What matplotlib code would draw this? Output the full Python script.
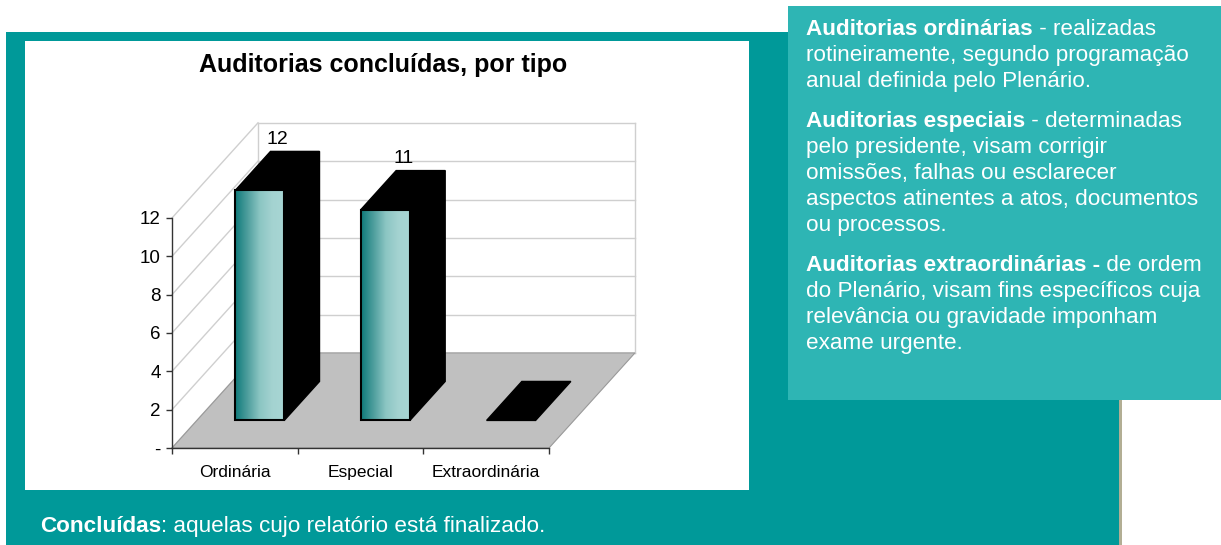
import numpy as np
import matplotlib.pyplot as plt
from matplotlib.patches import Rectangle, Polygon
from matplotlib.colors import LinearSegmentedColormap

# data
categories = ["Ordinária", "Especial", "Extraordinária"]
values = [12, 11, 0]
y_ticks = [0, 2, 4, 6, 8, 10, 12]
y_tick_labels = ["-", "2", "4", "6", "8", "10", "12"]

title = "Auditorias concluídas, por tipo"
note_bold = "Concluídas"
note_rest = ": aquelas cujo relatório está finalizado."

# (bold start, rest of first line, following lines)
paragraphs = [
    ("Auditorias ordinárias", " - realizadas",
     ["rotineiramente, segundo programação", "anual definida pelo Plenário."]),
    ("Auditorias especiais", " - determinadas",
     ["pelo presidente, visam corrigir", "omissões, falhas ou esclarecer",
      "aspectos atinentes a atos, documentos", "ou processos."]),
    ("Auditorias extraordinárias -", " de ordem",
     ["do Plenário, visam fins específicos cuja",
      "relevância ou gravidade imponham", "exame urgente."]),
]

TEAL = "#009999"
TEAL_LIGHT = "#2EB5B4"
W, H = 1221, 545
plt.rcParams["font.family"] = ["Liberation Sans", "DejaVu Sans"]

fig = plt.figure(figsize=(W / 100, H / 100), dpi=100)


def fx(x):
    return x / W


def fy(y):
    return 1 - y / H


def px_rect(x0, y0, x1, y1, color, z=0):
    fig.add_artist(Rectangle((fx(x0), fy(y1)), (x1 - x0) / W, (y1 - y0) / H,
                             transform=fig.transFigure, facecolor=color,
                             edgecolor="none", zorder=z))


# page background
px_rect(6, 32, 1119, 545, TEAL)
px_rect(1119, 400, 1122, 545, "#B2AE94")
px_rect(25, 41, 749, 490, "white")
px_rect(788, 6, 1221, 400, TEAL_LIGHT)

# chart axes with oblique depth
ax_box = (140, 110, 680, 490)
ax = fig.add_axes([fx(ax_box[0]), fy(ax_box[3]),
                   (ax_box[2] - ax_box[0]) / W, (ax_box[3] - ax_box[1]) / H])
ax.set_facecolor("none")
xs = 125.67  # px per category
ys = 19.17   # px per unit
xlim = ((ax_box[0] - 172) / xs, (ax_box[2] - 172) / xs)
ylim = (-(ax_box[3] - 448) / ys, (448 - ax_box[1]) / ys)

DX, DY = 0.684, 4.96
ymax = 12
n = len(categories)


def P(x, y, d):
    return (x + d * DX, y + d * DY)


# floor
ax.add_patch(Polygon([P(0, 0, 0), P(n, 0, 0), P(n, 0, 1), P(0, 0, 1)],
                     facecolor="#C0C0C0", edgecolor="#999999", lw=0.8, zorder=1))
# walls
for v in y_ticks:
    ax.plot([P(0, v, 1)[0], P(n, v, 1)[0]], [P(0, v, 1)[1]] * 2,
            color="#CFCFCF", lw=1, zorder=0.5)
    ax.plot([0, DX], [v, v + DY], color="#CFCFCF", lw=1, zorder=0.5)
ax.plot([DX, DX], [DY, ymax + DY], color="#CFCFCF", lw=1, zorder=0.5)
ax.plot([n + DX, n + DX], [DY, ymax + DY], color="#CFCFCF", lw=1, zorder=0.5)

# bars
cmap = LinearSegmentedColormap.from_list(
    "bar", ["#0E7A7A", "#4E9E9D", "#8CC6C3", "#A4D3D1", "#A8D6D4"])
grad = np.linspace(0, 1, 256).reshape(1, -1)
bw, d0, d1 = 0.39, 0.29, 0.70
for i, v in enumerate(values):
    x0 = i + 0.5 - bw / 2
    x1 = i + 0.5 + bw / 2
    ax.add_patch(Polygon([P(x0, v, d0), P(x1, v, d0), P(x1, v, d1), P(x0, v, d1)],
                         facecolor="black", edgecolor="black", lw=1, zorder=3))
    if v > 0:
        ax.add_patch(Polygon([P(x1, 0, d0), P(x1, v, d0), P(x1, v, d1), P(x1, 0, d1)],
                             facecolor="black", edgecolor="black", lw=1, zorder=3))
        fx0, fy0 = P(x0, 0, d0)
        fx1, fy1 = P(x1, v, d0)
        ax.imshow(grad, cmap=cmap, aspect="auto", extent=(fx0, fx1, fy0, fy1),
                  zorder=4, interpolation="bilinear")
        ax.add_patch(Rectangle((fx0, fy0), fx1 - fx0, fy1 - fy0, facecolor="none",
                               edgecolor="black", lw=1.5, zorder=5))
        lx, ly = P(i + 0.5, v, 0.5)
        ax.text(lx, ly + 1.6, str(v), ha="center", va="center",
                fontsize=14, zorder=6)

ax.set_xlim(*xlim)
ax.set_ylim(*ylim)

# axes
for s in ["top", "right"]:
    ax.spines[s].set_visible(False)
ax.spines["left"].set_position(("data", 0))
ax.spines["bottom"].set_position(("data", 0))
ax.spines["left"].set_bounds(0, ymax)
ax.spines["bottom"].set_bounds(0, n)
for s in ["left", "bottom"]:
    ax.spines[s].set_color("#333333")
    ax.spines[s].set_linewidth(1)
    ax.spines[s].set_zorder(2)
ax.set_yticks(y_ticks)
ax.set_yticklabels(y_tick_labels, fontsize=13.5)
ax.set_xticks(range(n + 1))
ax.set_xticklabels([])
ax.set_xticks([i + 0.5 for i in range(n)], minor=True)
ax.set_xticklabels(categories, minor=True, fontsize=12.5)
for lbl in ax.get_xticklabels(minor=True):
    lbl.set_verticalalignment("baseline")
ax.tick_params(axis="both", which="major", length=4, width=1, color="#333333", pad=4)
ax.tick_params(axis="x", which="minor", length=0, pad=21)

fig.text(fx(383), fy(65), title, ha="center", va="center",
         fontsize=18, fontweight="bold")

# text with bold lead-in
renderer = fig.canvas.get_renderer()


def lead_line(x, y, bold, rest, size):
    t = fig.text(fx(x), fy(y), bold, fontsize=size, fontweight="bold",
                 color="white", va="baseline")
    bb = t.get_window_extent(renderer=renderer)
    fig.text(bb.x1 / W, fy(y), rest, fontsize=size, color="white", va="baseline")


fs = 16.2
line_h = 26.2
y = 35
for bold, rest, lines in paragraphs:
    lead_line(806, y, bold, rest, fs)
    for ln in lines:
        y += line_h
        fig.text(fx(806), fy(y), ln, fontsize=fs, color="white", va="baseline")
    y += line_h + 13

lead_line(40, 532, note_bold, note_rest, fs)

fig.savefig("out.png", dpi=100)
